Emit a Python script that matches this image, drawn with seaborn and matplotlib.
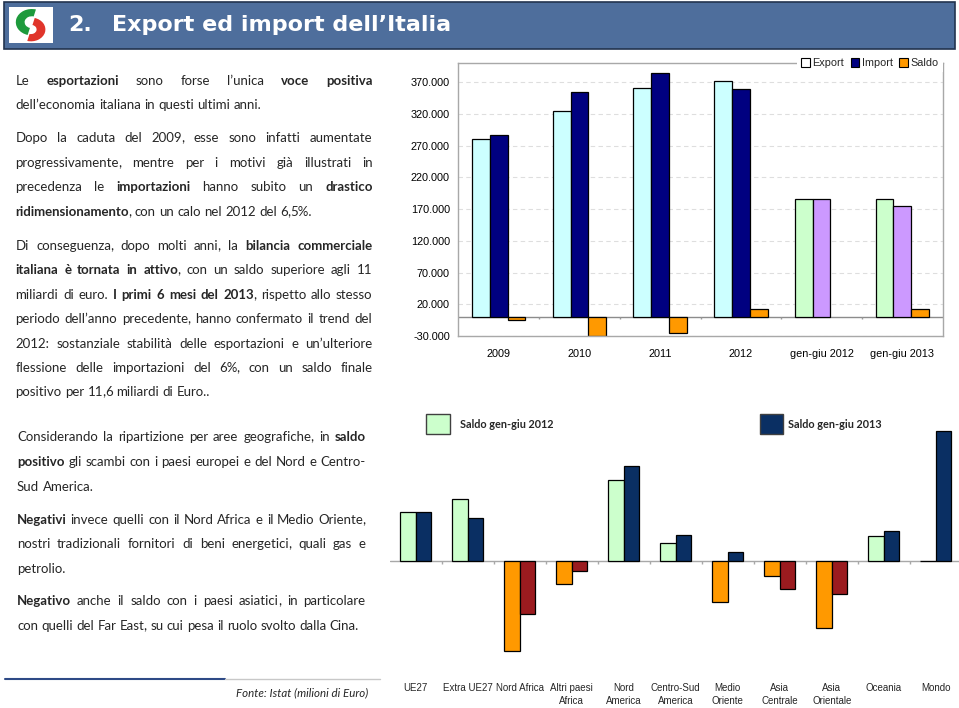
import matplotlib
matplotlib.use('Agg')
import re
import numpy as np
import pandas as pd
import seaborn as sns
import matplotlib.pyplot as plt
from matplotlib.patches import Rectangle, Patch, Wedge
from matplotlib.lines import Line2D

# dati grafico in alto (milioni di euro)
periodi = ['2009', '2010', '2011', '2012', 'gen-giu 2012', 'gen-giu 2013']
export = [280600, 324200, 361100, 371600, 185800, 186800]
import_ = [286300, 354200, 384800, 360000, 185800, 175300]
saldo = [-5300, -30000, -24700, 12100, 0, 12100]

# dati grafico in basso: saldo per area geografica
aree = ['UE27', 'Extra UE27', 'Nord Africa', 'Altri paesi\nAfrica', 'Nord\nAmerica',
        'Centro-Sud\nAmerica', 'Medio\nOriente', 'Asia\nCentrale', 'Asia\nOrientale',
        'Oceania', 'Mondo']
saldo_2012 = [4340, 5530, -8000, -2050, 7200, 1580, -3630, -1370, -5950, 2200, 40]
saldo_2013 = [4370, 3860, -4760, -860, 8450, 2350, 770, -2500, -2970, 2650, 11600]

# testo della slide: (y, [(pezzo, grassetto)], giustificato)
testo_alto = [
    (80.5, [('Le ', 0), ('esportazioni', 1), (' sono forse l’unica ', 0), ('voce positiva', 1)], True),
    (104.5, [('dell’economia italiana in questi ultimi anni.', 0)], False),
    (138, [('Dopo la caduta del 2009, esse sono infatti aumentate', 0)], True),
    (162.5, [('progressivamente, mentre per i motivi già illustrati in', 0)], True),
    (187, [('precedenza le ', 0), ('importazioni', 1), (' hanno subito un ', 0), ('drastico', 1)], True),
    (211.5, [('ridimensionamento', 1), (', con un calo nel 2012 del 6,5%.', 0)], False),
    (245.5, [('Di conseguenza, dopo molti anni, la ', 0), ('bilancia commerciale', 1)], True),
    (270, [('italiana è tornata in attivo', 1), (', con un saldo superiore agli 11', 0)], True),
    (294.5, [('miliardi di euro. ', 0), ('I primi 6 mesi del 2013', 1), (', rispetto allo stesso', 0)], True),
    (319, [('periodo dell’anno precedente, hanno confermato il trend del', 0)], True),
    (343.5, [('2012: sostanziale stabilità delle esportazioni e un’ulteriore', 0)], True),
    (368, [('flessione delle importazioni del 6%, con un saldo finale', 0)], True),
    (392, [('positivo per  11,6 miliardi di Euro..', 0)], False),
]
testo_basso = [
    (437, [('Considerando la ripartizione per aree geografiche, in ', 0), ('saldo', 1)], True),
    (462, [('positivo', 1), (' gli scambi con i paesi europei e del Nord e Centro-', 0)], True),
    (486.5, [('Sud America.', 0)], False),
    (519.5, [('Negativi', 1), (' invece quelli con il Nord Africa e il Medio Oriente,', 0)], True),
    (544, [('nostri tradizionali fornitori di beni energetici, quali gas e', 0)], True),
    (568.5, [('petrolio.', 0)], False),
    (601, [('Negativo', 1), (' anche il saldo con i paesi asiatici, in particolare', 0)], True),
    (625.5, [('con quelli del Far East, su cui pesa il ruolo svolto dalla Cina.', 0)], False),
]

sns.set_style('white')
plt.rcParams['font.family'] = ['Liberation Sans', 'DejaVu Sans']

W, H = 959, 708
fig = plt.figure(figsize=(W / 100, H / 100), dpi=100)
renderer = fig.canvas.get_renderer()


def fx(x):
    return x / W


def fy(y):
    return 1 - y / H


FONT_TESTO = 'Lato'
SIZE_TESTO = 9.5
BASE = 4.3  # distanza in px tra centro riga e linea di base


def larghezza(t):
    return t.get_window_extent(renderer).width


def riga(y, pezzi, x0, x1, giustifica):
    # spezza i pezzi in parole, ogni parola puo' avere piu' stili
    parole = [[]]
    for testo, b in pezzi:
        for k, p in enumerate(testo.split(' ')):
            if k > 0:
                parole.append([])
            # la virgola va da sola, altrimenti sposta la parola in verticale
            for q in re.split(r'(,)', p):
                if q:
                    parole[-1].append((q, b))
    parole = [p for p in parole if p]

    oggetti = []
    for parola in parole:
        runs = []
        for p, b in parola:
            t = fig.text(0, fy(y + BASE), p, family=FONT_TESTO, size=SIZE_TESTO,
                         weight='bold' if b else 'normal', va='baseline', ha='left')
            w = larghezza(t)
            if p == ',':
                w -= 1.0
            runs.append((t, w))
        oggetti.append(runs)
    larg = [sum(w for _, w in runs) for runs in oggetti]

    if giustifica and len(oggetti) > 1:
        sp = (x1 - x0 - sum(larg)) / (len(oggetti) - 1)
    else:
        sp = spazio
    x = x0
    for runs, l in zip(oggetti, larg):
        xx = x
        for t, w in runs:
            if t.get_text() == ',':
                t.set_x(fx(xx - 1.0))
            else:
                t.set_x(fx(xx))
            xx += w
        x += l + sp


# larghezza di uno spazio
_a = fig.text(0, 0, 'a a', family=FONT_TESTO, size=SIZE_TESTO)
_b = fig.text(0, 0, 'aa', family=FONT_TESTO, size=SIZE_TESTO)
spazio = larghezza(_a) - larghezza(_b)
_a.remove()
_b.remove()

for y, pezzi, g in testo_alto:
    riga(y, pezzi, 15.5, 372.5, g)
for y, pezzi, g in testo_basso:
    riga(y, pezzi, 17, 365.7, g)

# intestazione
fig.add_artist(Rectangle((fx(4), fy(49)), 951 / W, 47 / H, transform=fig.transFigure,
                         facecolor='#4E6E9C', edgecolor='#22344F', lw=1.2))
fig.add_artist(Rectangle((fx(9), fy(43)), 44 / W, 36 / H, transform=fig.transFigure,
                         facecolor='white', edgecolor='none'))
ax_logo = fig.add_axes([fx(11), fy(42), 40 / W, 33 / H])
ax_logo.set_zorder(3)
ax_logo.set_xlim(0, 1)
ax_logo.set_ylim(0, 1)
ax_logo.axis('off')
ax_logo.add_patch(Wedge((0.52, 0.6), 0.4, 75, 255, width=0.22, facecolor='#1E9A3C', edgecolor='none'))
ax_logo.add_patch(Wedge((0.5, 0.38), 0.36, 255, 435, width=0.22, facecolor='#E0352B', edgecolor='none'))
fig.text(fx(68), fy(25), '2.', color='white', family='DejaVu Sans', weight='bold', size=16, va='center')
fig.text(fx(112), fy(25), 'Export ed import dell’Italia', color='white', family='DejaVu Sans',
         weight='bold', size=16, va='center')

# grafico in alto
ax1 = fig.add_axes([fx(458.3), fy(336), (942.7 - 458.3) / W, (336 - 63.3) / H])
df1 = pd.DataFrame({
    'periodo': periodi * 3,
    'serie': ['Export'] * len(periodi) + ['Import'] * len(periodi) + ['Saldo'] * len(periodi),
    'valore': export + import_ + saldo,
})
colori_serie = ['#CCFFFF', '#000080', '#FF9900']
sns.barplot(data=df1, x='periodo', y='valore', hue='serie', palette=colori_serie, width=0.66,
            saturation=1, errorbar=None, edgecolor='black', linewidth=0.9, legend=False, ax=ax1)
for i, p in enumerate(periodi):
    if p.startswith('gen-giu'):
        ax1.containers[0][i].set_facecolor('#CCFFCC')
        ax1.containers[1][i].set_facecolor('#CC99FF')
for i, v in enumerate(saldo):
    if v == 0:
        ax1.containers[2][i].set_visible(False)

ax1.set_xlim(-0.5, len(periodi) - 0.5)
ax1.set_ylim(-30000, 400000)
yt = np.arange(-30000, 370001, 50000)
ax1.set_yticks(yt)
ax1.set_yticklabels([f'{v:,}'.replace(',', '.') for v in yt])
ax1.yaxis.grid(True, ls=(0, (4, 3)), color='#dedede', lw=0.8)
ax1.xaxis.grid(False)
ax1.set_axisbelow(True)
ax1.axhline(0, color='#8c8c8c', lw=1, zorder=0.9)
ax1.vlines(np.arange(len(periodi) - 1) + 0.5, -3500, 0, color='#9a9a9a', lw=1)
ax1.tick_params(axis='both', length=0, labelsize=7.8, labelcolor='black')
ax1.tick_params(axis='y', pad=6)
ax1.tick_params(axis='x', pad=9)
ax1.set_xlabel('')
ax1.set_ylabel('')
for s in ax1.spines.values():
    s.set_color('#a8a8a8')
    s.set_linewidth(1)
handles = [Patch(facecolor='white', edgecolor='black', lw=0.8),
           Patch(facecolor='#000080', edgecolor='black', lw=0.8),
           Patch(facecolor='#FF9900', edgecolor='black', lw=0.8)]
ax1.legend(handles, ['Export', 'Import', 'Saldo'], ncol=3, loc='center right',
           bbox_to_anchor=(1.0, 1.0), frameon=True, facecolor='white', edgecolor='none',
           fancybox=False, framealpha=1, handlelength=0.8, handleheight=0.8,
           handletextpad=0.25, columnspacing=0.6, borderpad=0.35, borderaxespad=0,
           fontsize=7.8)

# grafico in basso
ax2 = fig.add_axes([fx(389.7), fy(678), 572 / W, (678 - 425) / H])
df2 = pd.DataFrame({
    'area': aree * 2,
    'anno': ['2012'] * len(aree) + ['2013'] * len(aree),
    'saldo': saldo_2012 + saldo_2013,
})
sns.barplot(data=df2, x='area', y='saldo', hue='anno', palette=['#CCFFCC', '#0A2F63'], width=0.59,
            saturation=1, errorbar=None, edgecolor='black', linewidth=0.9, legend=False, ax=ax2)
for i, v in enumerate(saldo_2012):
    if v < 0:
        ax2.containers[0][i].set_facecolor('#FF9900')
for i, v in enumerate(saldo_2013):
    if v < 0:
        ax2.containers[1][i].set_facecolor('#9B1B1F')
ax2.set_xlim(-0.5, len(aree) - 0.5)
ax2.set_ylim(-10436, 12131)
ax2.axhline(0, color='#a8a8a8', lw=1, zorder=0.9)
ax2.vlines(np.arange(len(aree) - 1) + 0.5, -270, 0, color='#a8a8a8', lw=1)
ax2.set_yticks([])
ax2.set_xlabel('')
ax2.set_ylabel('')
ax2.tick_params(axis='x', length=0, pad=3.5)
for lab in ax2.get_xticklabels():
    lab.set_fontsize(7.0)
    lab.set_linespacing(1.45)
for s in ax2.spines.values():
    s.set_visible(False)

# legenda del grafico in basso
fig.add_artist(Rectangle((fx(426), fy(434)), 24 / W, 20 / H, transform=fig.transFigure,
                         facecolor='#CCFFCC', edgecolor='#404040', lw=1))
fig.text(fx(460), fy(425), 'Saldo gen-giu 2012', family=FONT_TESTO, weight='bold', size=7.8, va='center')
fig.add_artist(Rectangle((fx(760), fy(434)), 23 / W, 20 / H, transform=fig.transFigure,
                         facecolor='#0A2F63', edgecolor='#404040', lw=1))
fig.text(fx(788), fy(424), 'Saldo gen-giu 2013', family=FONT_TESTO, weight='bold', size=7.8, va='center')

# piede
fig.add_artist(Line2D([fx(5), fx(225)], [fy(679), fy(679)], transform=fig.transFigure,
                      color='#2E4A86', lw=1.5))
fig.add_artist(Line2D([fx(225), fx(380)], [fy(679), fy(679)], transform=fig.transFigure,
                      color='#c8c8c8', lw=1))
fig.text(fx(368), fy(693), 'Fonte: Istat (milioni di Euro)', family=FONT_TESTO, style='italic',
         size=8.3, ha='right', va='center')

fig.savefig('out.png', dpi=100)
